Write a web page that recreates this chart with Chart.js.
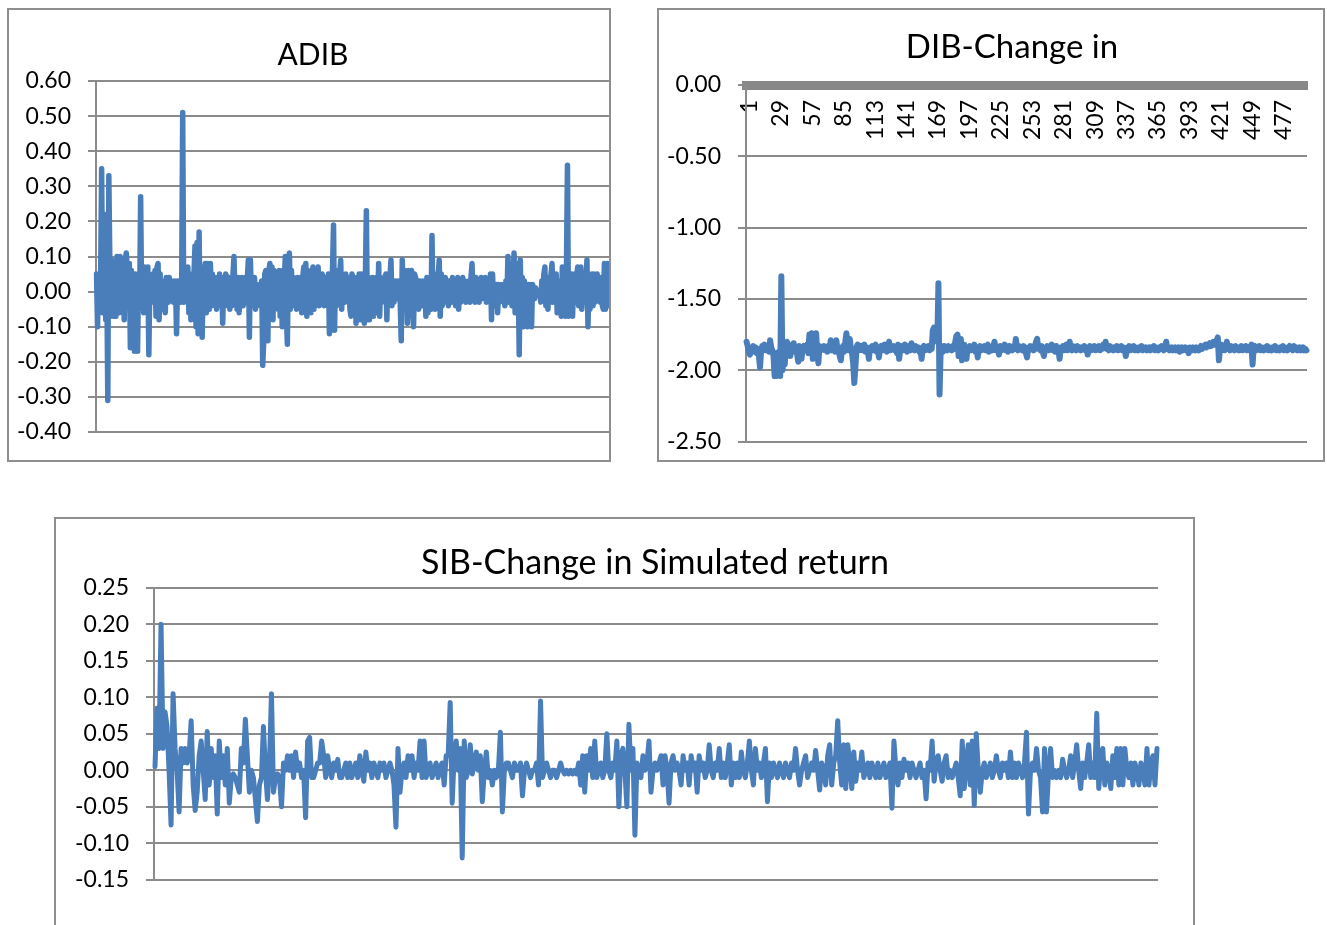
<!DOCTYPE html>
<html>
<head>
<meta charset="utf-8">
<script src="https://cdn.jsdelivr.net/npm/chart.js@4.4.1/dist/chart.umd.min.js"></script>
<style>
html,body{margin:0;padding:0;background:#fff;width:1327px;height:925px;overflow:hidden;}
.box{position:absolute;border:2px solid #8e8e8e;box-sizing:border-box;background:#fff;overflow:hidden;}
.box canvas{position:absolute;left:0;top:0;}
</style>
</head>
<body>
<div class="box" style="left:7px;top:8px;width:604px;height:454px"><canvas id="c1" width="600" height="450" style="width:600px;height:450px"></canvas></div>
<div class="box" style="left:657px;top:8px;width:668px;height:454px"><canvas id="c2" width="701" height="450" style="width:701px;height:450px"></canvas></div>
<div class="box" style="left:54px;top:517px;width:1141px;height:424px"><canvas id="c3" width="1188" height="420" style="width:1188px;height:420px"></canvas></div>
<script>
// ---------- DATA ----------
const categories = Array.from({length: 500}, (_, i) => i + 1);

const titles = ["ADIB", "DIB-Change in", "SIB-Change in Simulated return"];

const adibValues = [
0.05,-0.10,0.05,-0.05,0.04,0.35,-0.06,0.05,0.22,-0.08,
0.06,-0.31,0.33,0.08,-0.07,0.09,0.08,-0.07,0.05,-0.07,
0.10,0.03,-0.06,0.10,0.04,-0.03,0.07,-0.08,0.09,0.11,
0.06,-0.04,0.08,-0.16,0.06,-0.15,0.05,-0.17,0.05,0.04,
-0.17,0.05,-0.05,0.27,-0.03,0.05,-0.06,0.07,0.06,-0.04,
0.07,-0.18,0.03,0.04,-0.03,0.05,-0.02,0.06,-0.07,0.07,
0.08,-0.08,0.05,-0.05,0.03,-0.04,0.02,-0.06,0.04,0.03,
-0.03,0.04,-0.02,0.03,0.02,-0.03,0.03,0.02,-0.12,0.03,
-0.02,0.03,-0.03,0.02,0.51,-0.03,0.04,-0.02,0.03,0.07,
-0.06,0.05,-0.08,0.02,-0.03,0.05,0.13,-0.10,0.14,-0.12,
0.17,-0.11,0.07,-0.13,0.05,-0.04,0.08,-0.06,0.08,0.03,
-0.05,0.08,-0.04,0.05,-0.03,0.04,0.03,-0.05,0.04,-0.02,
0.05,-0.04,0.03,-0.09,0.04,-0.03,0.05,0.03,-0.04,0.04,
-0.05,0.03,-0.04,0.05,0.10,-0.03,0.04,-0.05,0.04,-0.06,
0.03,-0.02,0.04,-0.04,0.03,0.04,-0.03,0.04,0.09,-0.13,
0.09,-0.03,0.03,-0.04,0.04,-0.05,0.02,0.00,-0.03,0.02,
-0.04,0.03,-0.21,-0.14,0.05,0.06,-0.06,-0.14,0.06,0.08,
-0.05,0.07,-0.08,0.06,0.04,-0.04,0.03,-0.05,0.06,-0.07,
0.05,-0.10,0.06,0.03,0.10,-0.05,-0.15,0.07,0.11,-0.05,
0.06,-0.04,0.04,-0.02,0.03,-0.05,0.04,0.03,-0.03,0.04,
-0.06,0.04,0.07,-0.03,0.08,-0.07,0.06,-0.03,0.04,-0.06,
0.05,0.07,-0.05,0.06,-0.03,0.05,0.07,-0.04,0.04,-0.03,
0.05,0.03,-0.04,0.03,0.04,-0.04,0.05,-0.12,0.04,-0.11,
0.06,0.19,-0.11,0.05,-0.04,0.06,-0.03,0.05,0.09,-0.05,
0.04,0.02,-0.03,0.05,-0.02,0.04,0.03,-0.05,-0.07,0.05,
0.04,-0.06,0.03,-0.09,0.04,-0.07,0.05,-0.08,0.05,-0.07,
0.04,-0.09,0.03,0.23,-0.08,0.04,-0.08,0.03,-0.05,0.04,
-0.07,0.03,-0.04,0.04,-0.06,0.08,-0.07,0.04,-0.03,0.02,
-0.02,0.04,0.05,-0.08,0.05,-0.03,0.04,0.09,-0.04,0.02,
-0.03,0.03,0.02,-0.02,0.03,0.02,-0.03,-0.14,0.09,-0.04,
0.06,-0.05,0.05,-0.09,0.06,0.05,-0.04,0.06,-0.05,-0.10,
0.05,0.04,-0.03,0.03,-0.05,0.03,0.02,-0.04,0.03,-0.03,
0.02,-0.07,0.04,-0.06,0.03,0.03,-0.05,0.16,-0.04,0.05,
-0.05,0.04,-0.03,0.04,0.09,-0.07,0.05,-0.04,0.03,-0.03,
0.04,-0.02,0.03,-0.04,0.03,0.02,-0.03,0.04,-0.02,0.03,
-0.04,0.02,0.04,-0.05,0.03,-0.03,0.02,0.04,-0.02,0.03,
-0.03,0.02,-0.02,0.03,-0.03,0.04,0.08,-0.02,0.03,-0.03,
0.04,-0.02,0.03,-0.03,0.02,0.04,-0.02,0.03,-0.01,0.04,
-0.03,0.02,0.03,-0.02,0.05,-0.08,0.05,-0.03,0.02,-0.04,
0.02,-0.06,0.02,-0.03,0.01,0.02,-0.02,0.01,-0.04,0.03,
-0.02,0.10,-0.03,0.05,0.04,-0.04,0.06,0.11,-0.06,0.08,
-0.05,0.05,-0.18,0.09,-0.08,0.04,-0.10,0.03,-0.06,0.02,
-0.10,0.02,-0.04,0.02,-0.10,0.02,0.01,-0.02,0.01,0.00,
-0.01,0.00,0.00,-0.03,0.03,-0.02,0.05,0.07,-0.04,0.03,
-0.05,0.04,-0.03,0.05,0.08,-0.03,0.04,-0.03,0.05,-0.06,
0.03,-0.04,0.03,-0.07,0.07,-0.03,0.03,-0.07,0.05,0.36,
-0.07,0.04,-0.04,0.05,-0.07,0.03,0.05,-0.03,0.04,0.07,
-0.04,0.03,0.07,-0.05,0.04,-0.03,0.05,0.03,0.09,-0.10,
0.04,-0.05,0.03,0.05,-0.04,0.05,-0.03,0.03,0.05,-0.02,
0.03,-0.03,0.04,-0.04,-0.05,0.08,-0.05,0.02,0.08,-0.04
];

const dibValues = [
-1.80,-1.83,-1.87,-1.89,-1.85,-1.86,-1.83,-1.87,-1.84,-1.88,
-1.85,-1.90,-1.98,-1.86,-1.83,-1.85,-1.82,-1.86,-1.84,-1.83,
-1.87,-1.79,-1.84,-1.86,-1.90,-2.04,-1.88,-2.04,-2.03,-1.87,
-2.04,-1.34,-2.00,-1.93,-1.96,-1.85,-1.80,-1.86,-1.82,-1.90,
-1.84,-1.85,-1.81,-1.87,-1.84,-1.88,-1.94,-1.83,-1.86,-1.92,
-1.84,-1.83,-1.86,-1.85,-1.82,-1.88,-1.75,-1.86,-1.74,-1.92,
-1.76,-1.85,-1.74,-1.88,-1.95,-1.83,-1.86,-1.84,-1.85,-1.83,
-1.86,-1.84,-1.87,-1.83,-1.85,-1.79,-1.86,-1.84,-1.82,-1.87,
-1.79,-1.85,-1.84,-1.90,-1.93,-1.86,-1.83,-1.87,-1.80,-1.74,
-1.82,-1.86,-1.78,-1.85,-1.88,-1.95,-2.09,-1.98,-1.84,-1.82,
-1.86,-1.84,-1.83,-1.86,-1.85,-1.82,-1.87,-1.84,-1.86,-1.92,
-1.84,-1.85,-1.83,-1.86,-1.84,-1.82,-1.87,-1.85,-1.91,-1.84,
-1.83,-1.86,-1.84,-1.82,-1.85,-1.87,-1.83,-1.80,-1.86,-1.84,
-1.85,-1.83,-1.86,-1.84,-1.88,-1.82,-1.92,-1.85,-1.83,-1.86,
-1.84,-1.82,-1.85,-1.87,-1.84,-1.83,-1.86,-1.81,-1.85,-1.84,
-1.86,-1.83,-1.85,-1.84,-1.87,-1.85,-1.92,-1.84,-1.83,-1.86,
-1.84,-1.85,-1.83,-1.86,-1.84,-1.85,-1.72,-1.70,-1.78,-1.74,
-1.80,-1.39,-2.17,-1.86,-1.84,-1.87,-1.83,-1.85,-1.84,-1.86,
-1.83,-1.85,-1.84,-1.86,-1.83,-1.85,-1.80,-1.76,-1.75,-1.90,
-1.84,-1.78,-1.93,-1.85,-1.82,-1.86,-1.92,-1.84,-1.85,-1.83,
-1.86,-1.84,-1.85,-1.82,-1.87,-1.84,-1.91,-1.85,-1.83,-1.86,
-1.84,-1.85,-1.83,-1.86,-1.84,-1.82,-1.87,-1.85,-1.84,-1.86,
-1.83,-1.80,-1.86,-1.84,-1.85,-1.89,-1.83,-1.86,-1.84,-1.85,
-1.82,-1.86,-1.84,-1.87,-1.83,-1.85,-1.84,-1.86,-1.83,-1.85,
-1.78,-1.84,-1.86,-1.83,-1.85,-1.84,-1.86,-1.83,-1.85,-1.88,
-1.91,-1.84,-1.86,-1.83,-1.85,-1.84,-1.86,-1.83,-1.80,-1.78,
-1.85,-1.84,-1.86,-1.83,-1.87,-1.90,-1.84,-1.85,-1.83,-1.86,
-1.84,-1.85,-1.82,-1.86,-1.84,-1.87,-1.83,-1.85,-1.86,-1.92,
-1.84,-1.85,-1.83,-1.86,-1.84,-1.82,-1.86,-1.84,-1.80,-1.85,
-1.86,-1.83,-1.85,-1.84,-1.86,-1.83,-1.85,-1.84,-1.86,-1.84,
-1.85,-1.83,-1.86,-1.84,-1.89,-1.85,-1.83,-1.86,-1.84,-1.85,
-1.83,-1.86,-1.84,-1.85,-1.83,-1.86,-1.84,-1.85,-1.82,-1.84,
-1.80,-1.85,-1.84,-1.86,-1.83,-1.85,-1.84,-1.86,-1.84,-1.85,
-1.83,-1.86,-1.84,-1.85,-1.83,-1.86,-1.84,-1.85,-1.90,-1.84,
-1.85,-1.83,-1.86,-1.84,-1.85,-1.83,-1.86,-1.84,-1.85,-1.86,
-1.84,-1.85,-1.83,-1.86,-1.84,-1.85,-1.84,-1.86,-1.85,-1.84,
-1.86,-1.84,-1.85,-1.83,-1.86,-1.84,-1.85,-1.86,-1.84,-1.85,
-1.83,-1.84,-1.86,-1.83,-1.80,-1.85,-1.84,-1.86,-1.85,-1.84,
-1.86,-1.85,-1.84,-1.86,-1.85,-1.84,-1.87,-1.85,-1.84,-1.86,
-1.85,-1.84,-1.86,-1.85,-1.88,-1.84,-1.85,-1.86,-1.84,-1.85,
-1.86,-1.84,-1.85,-1.86,-1.84,-1.83,-1.85,-1.84,-1.83,-1.82,
-1.84,-1.82,-1.83,-1.81,-1.83,-1.82,-1.80,-1.82,-1.81,-1.79,
-1.77,-1.93,-1.84,-1.82,-1.85,-1.83,-1.86,-1.84,-1.80,-1.85,
-1.84,-1.86,-1.83,-1.85,-1.84,-1.86,-1.83,-1.85,-1.84,-1.86,
-1.85,-1.83,-1.86,-1.84,-1.85,-1.83,-1.86,-1.84,-1.85,-1.84,
-1.82,-1.96,-1.84,-1.83,-1.86,-1.84,-1.85,-1.83,-1.86,-1.84,
-1.85,-1.86,-1.84,-1.85,-1.83,-1.86,-1.84,-1.85,-1.86,-1.84,
-1.85,-1.83,-1.86,-1.84,-1.85,-1.86,-1.84,-1.85,-1.83,-1.86,
-1.84,-1.85,-1.86,-1.84,-1.83,-1.85,-1.84,-1.86,-1.83,-1.85,
-1.84,-1.86,-1.85,-1.84,-1.86,-1.85,-1.84,-1.86,-1.85,-1.86
];

const sibValues = [
0.005,0.085,0.03,0.20,0.03,0.08,0.06,0.0,-0.075,0.105,
0.03,0.0,-0.057,0.03,0.01,0.03,0.01,0.02,0.068,-0.02,
-0.055,-0.03,0.02,0.04,0.0,-0.04,0.053,-0.02,0.03,-0.01,
0.02,-0.06,0.04,-0.01,0.02,-0.02,0.03,-0.045,-0.01,-0.005,
-0.01,-0.02,-0.03,0.03,0.01,0.07,0.02,-0.03,0.0,-0.01,
-0.04,-0.07,-0.02,-0.01,0.06,0.0,-0.04,0.01,0.105,-0.03,
-0.01,-0.005,-0.01,-0.05,0.01,0.0,0.02,0.0,0.02,-0.01,
0.025,0.0,0.01,-0.01,0.0,-0.065,0.04,0.045,-0.01,-0.01,
0.0,0.01,0.01,0.04,0.02,-0.01,0.02,0.0,-0.01,0.01,
0.0,0.015,-0.01,-0.01,0.0,0.01,-0.01,0.01,-0.01,0.0,
0.01,-0.01,0.02,0.0,-0.015,0.025,0.0,0.01,-0.01,0.01,
0.0,-0.01,0.01,0.0,0.01,-0.01,0.0,0.01,0.0,-0.02,
-0.078,0.03,-0.03,0.0,0.01,-0.01,0.02,0.0,0.02,-0.01,
0.01,0.0,0.04,-0.01,0.04,-0.01,0.0,0.01,-0.01,0.0,
0.01,-0.01,0.005,0.01,-0.02,0.02,0.02,0.093,-0.045,0.02,
0.04,0.0,0.03,-0.12,0.04,-0.01,0.0,0.035,-0.005,0.01,
0.025,0.0,
0.02,-0.043,0.0,0.025,-0.01,0.0,-0.02,0.0,-0.01,0.0,
0.052,-0.057,0.0,0.01,0.01,0.0,-0.01,0.01,0.0,0.0,
0.01,-0.035,0.0,0.01,0.0,-0.01,0.0,0.0,0.01,-0.02,
0.095,-0.01,0.0,0.01,0.0,-0.01,0.0,0.0,-0.01,0.0,
0.01,
0.0,-0.005,0.0,-0.005,0.0,-0.005,0.0,-0.005,0.01,-0.02,
0.02,-0.03,0.02,0.0,0.03,-0.01,0.04,-0.01,0.0,0.01,
-0.01,0.0,0.05,0.0,-0.01,0.01,0.0,0.04,-0.05,0.02,
0.03,0.0,-0.05,0.063,0.0,0.03,-0.089,0.01,0.0,-0.01,
0.02,0.0,0.01,0.04,-0.03,0.0,0.01,0.0,0.01,0.02,
-0.02,0.02,0.0,-0.045,0.01,0.02,0.0,0.01,0.0,-0.02,
0.02,0.0,0.01,-0.02,0.02,0.0,0.01,-0.03,0.02,0.0,
0.01,-0.01,0.0,0.035,0.0,-0.01,0.01,0.0,0.03,-0.01,
0.01,-0.01,0.01,0.035,-0.02,0.01,-0.01,0.01,-0.01,0.025,
0.0,-0.01,0.01,0.04,0.0,-0.02,0.03,0.0,0.01,-0.01,
0.01,0.03,-0.043,0.01,-0.01,0.01,0.0,-0.01,0.01,0.0,
-0.01,0.01,0.0,-0.01,0.01,0.0,0.03,0.0,-0.02,0.0,
0.01,0.02,-0.01,0.0,0.01,
0.0,0.027,0.0,-0.027,0.01,0.0,-0.02,0.02,0.035,-0.02,
0.01,0.02,0.068,0.01,-0.02,0.035,-0.025,0.035,0.01,-0.025,
0.025,-0.015,0.01,0.0,0.025,-0.01,0.0,0.01,-0.01,0.01,
0.0,-0.01,0.01,-0.01,0.0,0.01,-0.01,0.0,0.01,-0.052,
0.04,0.0,-0.02,0.01,-0.01,0.015,0.0,0.01,-0.01,0.01,
0.0,-0.01,0.0,0.01,-0.01,0.0,-0.039,0.01,0.0,0.04,
-0.015,0.01,0.02,0.0,-0.015,0.01,0.02,-0.01,0.0,-0.01,
0.0,0.01,-0.01,-0.035,0.04,-0.025,0.01,0.035,-0.02,0.04,
-0.048,0.05,0.0,-0.03,0.0,0.01,-0.01,0.0,0.01,-0.01,
0.0,0.02,0.0,-0.01,0.01,0.0,0.01,-0.01,0.025,-0.01,
0.01,-0.01,0.01,0.0,-0.01,0.01,0.052,-0.06,0.0,0.01,
0.0,0.03,0.0,-0.01,-0.057,0.03,-0.057,0.0,0.03,-0.01,
0.0,-0.01,0.0,-0.01,0.015,0.0,-0.01,0.0,0.02,-0.01,
0.01,0.035,0.0,-0.025,0.01,-0.01,0.01,0.035,-0.01,0.01,
-0.01,0.078,-0.025,0.01,0.03,-0.02,0.01,0.0,-0.025,0.02,
-0.01,0.03,-0.02,0.03,-0.02,0.03,0.0,-0.01,0.01,-0.02,
0.01,0.0,-0.02,0.01,0.0,-0.02,0.03,-0.02,0.01,0.02,
-0.02,0.03
];

// y-axis ranges [min, max, step]
const adibAxis = [-0.40, 0.60, 0.10];
const dibAxis = [-2.50, 0.00, 0.50];
const sibAxis = [-0.15, 0.25, 0.05];
const dibLabelEvery = 28;

// ---------- STYLE ----------
const FONT = 'Lato, "Open Sans", sans-serif';
const BLUE = '#4a7ebb';
const GRID = '#8b8b8b';

function fmt(v) { return Math.abs(v) < 1e-9 ? '0.00' : Number(v).toFixed(2); }

function makeChart(id, title, values, axis, cfg) {
  const scales = {
    x: cfg.x,
    y: {
      position: 'left',
      min: axis[0], max: axis[1],
      afterFit(s) { s.width = cfg.yWidth; s.paddingTop = 0; s.paddingBottom = 0; },
      ticks: { stepSize: axis[2], callback: fmt, color: '#000', padding: 17,
               font: { family: FONT, size: 23 } },
      grid: { color: GRID, lineWidth: 2, drawTicks: true, tickLength: 8 },
      border: { color: GRID, width: 2 }
    }
  };
  if (cfg.rightSpace) {
    // empty right-hand box so the title can be centred like the original
    scales.yRight = {
      type: 'linear', position: 'right', min: axis[0], max: axis[1],
      afterFit(s) { s.width = cfg.rightSpace; s.paddingTop = 0; s.paddingBottom = 0; },
      ticks: { display: false }, grid: { display: false, drawTicks: false },
      border: { display: false }
    };
  }
  return new Chart(document.getElementById(id), {
    type: 'line',
    data: {
      labels: categories,
      datasets: [{
        data: values, yAxisID: 'y', borderColor: BLUE, backgroundColor: BLUE,
        borderWidth: cfg.lw, pointRadius: 0, pointHoverRadius: 0,
        tension: 0, fill: false, borderJoinStyle: 'round', borderCapStyle: 'round'
      }]
    },
    options: {
      responsive: false, animation: false, devicePixelRatio: 1,
      events: [],
      layout: { padding: cfg.pad, autoPadding: false },
      plugins: {
        legend: { display: false },
        tooltip: { enabled: false },
        title: {
          display: true, text: title, color: '#000',
          font: { family: FONT, size: cfg.titleSize, weight: 'normal', lineHeight: 1.2 },
          padding: { top: 0, bottom: cfg.titleGap }
        }
      },
      scales
    }
  });
}

makeChart('c1', titles[0], adibValues, adibAxis, {
  lw: 5.5, titleSize: 30, titleGap: 8, yWidth: 79,
  pad: { top: 27, left: 8, right: 0, bottom: 28 },
  x: { type: 'category', offset: true, position: { y: 0 },
       ticks: { display: false }, grid: { display: false, drawTicks: false },
       border: { display: true, color: '#000', width: 2 } }
});

makeChart('c2', titles[1], dibValues, dibAxis, {
  lw: 6, titleSize: 33, titleGap: 17.4, yWidth: 82, rightSpace: 53,
  pad: { top: 18, left: 5, right: 0, bottom: 18.4 },
  x: { type: 'category', offset: true, position: { y: 0 },
       ticks: { autoSkip: false, maxRotation: 90, minRotation: 90, padding: 15, labelOffset: 3,
                color: '#000', font: { family: FONT, size: 23 },
                callback: (v, i) => (i % dibLabelEvery === 0 ? String(categories[i]) : '') },
       grid: { display: false, drawTicks: false },
       border: { display: true, color: '#888888', width: 9 } }
});

makeChart('c3', titles[2], sibValues, sibAxis, {
  lw: 5, titleSize: 34, titleGap: 4.4, yWidth: 88, rightSpace: 86,
  pad: { top: 23.6, left: 10, right: 0, bottom: 59.2 },
  x: { type: 'category', offset: true, display: false }
});
</script>
</body>
</html>
